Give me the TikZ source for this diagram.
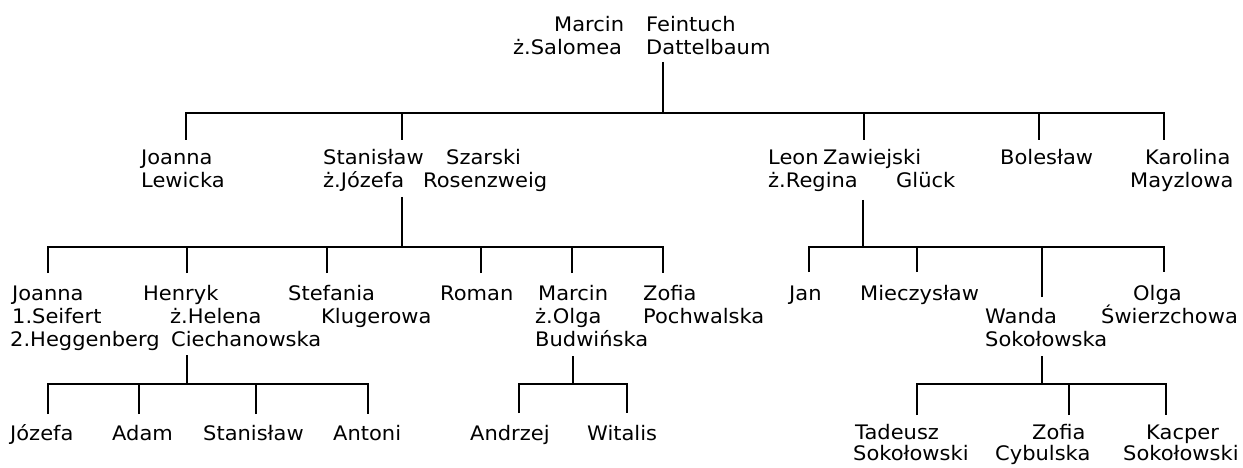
\documentclass[tikz,border=0pt]{standalone}
\usepackage{fontspec}
\setmainfont{DejaVu Sans}[FakeStretch=1.05]
\newcommand\lett{\fontsize{20}{23}\selectfont}
\newcommand\lettb{\fontsize{20}{20}\selectfont}
\newcommand\per[1]{\begin{tabular}[t]{@{}l@{}}#1\end{tabular}}
\newcommand\seg[2]{\makebox[#1pt][l]{#2}}
\begin{document}
\begin{tikzpicture}[x=1pt,y=-1pt,
  pers/.style={anchor=base west, inner sep=0pt, font=\lett, text=black},
  link/.style={line width=1.5pt, line join=miter, black}]
\useasboundingbox (0,0) rectangle (1243,468);
% ---------- people ----------
\node[pers] (root) at (513,32) {\per{\hspace*{41pt}\seg{92}{Marcin}Feintuch\\ \seg{133}{ż.Salomea}Dattelbaum}};
% level 1
\node[pers] (joanna1) at (141,165) {\per{Joanna\\Lewicka}};
\node[pers] (stan) at (323,165) {\per{\seg{123}{Stanisław}Szarski\\ \seg{100}{ż.Józefa}Rosenzweig}};
\node[pers] (leon) at (768,165) {\per{\seg{55}{Leon}Zawiejski\\ \seg{128}{ż.Regina}Glück}};
\node[pers] (boles) at (1000,165) {\per{Bolesław}};
\node[pers] (karol) at (1130,165) {\per{\hspace*{15pt}Karolina\\Mayzlowa}};
% level 2
\node[pers] (joanna2) at (10,300) {\per{\hspace*{2pt}Joanna\\ \hspace*{2pt}1.Seifert\\2.Heggenberg}};
\node[pers] (henryk) at (143,300) {\per{Henryk\\ \hspace*{27pt}ż.Helena\\ \hspace*{28pt}Ciechanowska}};
\node[pers] (stef) at (288,300) {\per{Stefania\\ \hspace*{33pt}Klugerowa}};
\node[pers] (roman) at (440,300) {\per{Roman}};
\node[pers] (marcin2) at (535,300) {\per{\hspace*{3pt}Marcin\\ż.Olga\\Budwińska}};
\node[pers] (zofia2) at (643,300) {\per{Zofia\\Pochwalska}};
\node[pers] (jan) at (789,300) {\per{Jan}};
\node[pers] (miecz) at (860,300) {\per{Mieczysław}};
\node[pers] (wanda) at (985,323) {\per{Wanda\\Sokołowska}};
\node[pers] (olga) at (1101,300) {\per{\hspace*{32pt}Olga\\ \smash{Ś}wierzchowa}};
% level 3
\node[pers] (jozefa) at (10,440) {\per{Józefa}};
\node[pers] (adam) at (112,440) {\per{Adam}};
\node[pers] (stan3) at (203,440) {\per{Stanisław}};
\node[pers] (antoni) at (333,440) {\per{Antoni}};
\node[pers] (andrzej) at (470,440) {\per{Andrzej}};
\node[pers] (witalis) at (587,440) {\per{Witalis}};
\node[pers, font=\lettb] (tadeusz) at (853,439) {\per{\hspace*{2pt}Tadeusz\\Sokołowski}};
\node[pers, font=\lettb] (zofia3) at (995,439) {\per{\hspace*{37pt}Zofia\\Cybulska}};
\node[pers, font=\lettb] (kacper) at (1123,439) {\per{\hspace*{23pt}Kacper\\Sokołowski}};
% ---------- connection points ----------
\coordinate (root-out) at (663,62);   \coordinate (root-bar) at (663,113);
\coordinate (joanna1-in) at (186,140); \coordinate (stan-in) at (402,140);
\coordinate (leon-in) at (864,140);    \coordinate (boles-in) at (1039,140);
\coordinate (karol-in) at (1164,140);
\coordinate (stan-out) at (402,197);   \coordinate (stan-bar) at (402,247);
\coordinate (joanna2-in) at (48,273);  \coordinate (henryk-in) at (187,273);
\coordinate (stef-in) at (327,273);    \coordinate (roman-in) at (481,273);
\coordinate (marcin2-in) at (572,273); \coordinate (zofia2-in) at (663,273);
\coordinate (leon-out) at (863,200);   \coordinate (leon-bar) at (863,247);
\coordinate (jan-in) at (809,272);     \coordinate (miecz-in) at (917,272);
\coordinate (wanda-in) at (1042,297);  \coordinate (olga-in) at (1164,272);
\coordinate (henryk-out) at (187,355); \coordinate (henryk-bar) at (187,384);
\coordinate (jozefa-in) at (48,414);   \coordinate (adam-in) at (139,414);
\coordinate (stan3-in) at (256,414);   \coordinate (antoni-in) at (368,414);
\coordinate (marcin2-out) at (573,356); \coordinate (marcin2-bar) at (573,384);
\coordinate (andrzej-in) at (519,413); \coordinate (witalis-in) at (627,413);
\coordinate (wanda-out) at (1042,356); \coordinate (wanda-bar) at (1042,384);
\coordinate (tadeusz-in) at (917,415); \coordinate (zofia3-in) at (1069,415);
\coordinate (kacper-in) at (1166,415);
% ---------- connectors ----------
\draw[link] (root-out) -- (root-bar);
\draw[link] (joanna1-in) -- (joanna1-in |- root-bar) -- (karol-in |- root-bar) -- (karol-in);
\foreach \c in {stan,leon,boles} \draw[link] (\c-in) -- (\c-in |- root-bar);

\draw[link] (stan-out) -- (stan-bar);
\draw[link] (joanna2-in) -- (joanna2-in |- stan-bar) -- (zofia2-in |- stan-bar) -- (zofia2-in);
\foreach \c in {henryk,stef,roman,marcin2} \draw[link] (\c-in) -- (\c-in |- stan-bar);

\draw[link] (leon-out) -- (leon-bar);
\draw[link] (jan-in) -- (jan-in |- leon-bar) -- (olga-in |- leon-bar) -- (olga-in);
\foreach \c in {miecz,wanda} \draw[link] (\c-in) -- (\c-in |- leon-bar);

\draw[link] (henryk-out) -- (henryk-bar);
\draw[link] (jozefa-in) -- (jozefa-in |- henryk-bar) -- (antoni-in |- henryk-bar) -- (antoni-in);
\foreach \c in {adam,stan3} \draw[link] (\c-in) -- (\c-in |- henryk-bar);

\draw[link] (marcin2-out) -- (marcin2-bar);
\draw[link] (andrzej-in) -- (andrzej-in |- marcin2-bar) -- (witalis-in |- marcin2-bar) -- (witalis-in);

\draw[link] (wanda-out) -- (wanda-bar);
\draw[link] (tadeusz-in) -- (tadeusz-in |- wanda-bar) -- (kacper-in |- wanda-bar) -- (kacper-in);
\draw[link] (zofia3-in) -- (zofia3-in |- wanda-bar);
\end{tikzpicture}
\end{document}
